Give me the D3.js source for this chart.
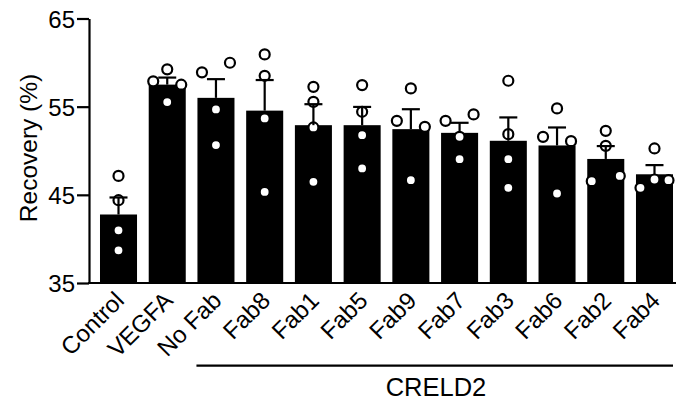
<!DOCTYPE html>
<meta charset="utf-8">
<style>
body { margin: 0; background: #fff; }
text { font-family: Arial, "Liberation Sans", sans-serif; fill: #000; }
</style>
<body>
<script src="https://d3js.org/d3.v7.min.js"></script>
<script>
var groups = ["Control", "VEGFA", "No Fab", "Fab8", "Fab1", "Fab5", "Fab9", "Fab7", "Fab3", "Fab6", "Fab2", "Fab4"];
var means = [42.77, 57.5, 56.0, 54.55, 52.9, 52.9, 52.45, 52.03, 51.13, 50.6, 49.07, 47.33];
var sems = [1.93, 0.8, 2.12, 3.47, 2.38, 2.07, 2.26, 1.14, 2.65, 2.04, 1.46, 1.04];
// replicate values per group, and the column (-1 left, 0 middle, 1 right) where each sits
var points = [
  [47.15, 44.39, 40.98, 38.71],
  [57.87, 59.23, 57.49, 55.52],
  [58.89, 59.98, 54.69, 50.64],
  [60.93, 58.5, 53.67, 45.33],
  [57.25, 55.55, 52.64, 46.47],
  [57.45, 54.42, 51.77, 47.99],
  [53.39, 57.07, 52.71, 46.66],
  [53.39, 54.12, 51.58, 49.05],
  [57.94, 51.88, 49.05, 45.79],
  [54.8, 51.58, 51.09, 45.15],
  [52.26, 50.56, 46.55, 47.15],
  [50.26, 45.79, 46.74, 46.66]
];
var lanes = [
  [0, 0, 0, 0],
  [-1, 0, 1, 0],
  [-1, 1, 0, 0],
  [0, 0, 0, 0],
  [0, 0, 0, 0],
  [0, 0, 0, 0],
  [-1, 0, 1, 0],
  [-1, 1, 0, 0],
  [0, 0, 0, 0],
  [0, -1, 1, 0],
  [0, 0, -1, 1],
  [0, -1, 0, 1]
];
var yTicks = [35, 45, 55, 65];
var bracketLabel = "CRELD2";
var bracketFrom = "No Fab";

var width = 678, height = 405;

var svg = d3.select("body").append("svg")
    .attr("width", width)
    .attr("height", height);

var x = d3.scaleBand()
    .domain(groups)
    .range([88.3, 684.7])
    .paddingInner(0.24)
    .paddingOuter(0.24);

var y = d3.scaleLinear()
    .domain([35, 65])
    .range([283, 18.5]);

// bars
svg.selectAll("rect.bar")
    .data(groups)
  .enter().append("rect")
    .attr("class", "bar")
    .attr("x", function(d) { return x(d); })
    .attr("width", x.bandwidth())
    .attr("y", function(d, i) { return y(means[i]); })
    .attr("height", function(d, i) { return y(35) - y(means[i]); })
    .attr("fill", "#000");

// replicate dots
var spread = 14;
var dots = [];
groups.forEach(function(g, i) {
  points[i].forEach(function(v, j) {
    dots.push({ g: g, v: v, lane: lanes[i][j] });
  });
});
svg.selectAll("circle.dot")
    .data(dots)
  .enter().append("circle")
    .attr("class", "dot")
    .attr("cx", function(d) { return x(d.g) + x.bandwidth() / 2 + d.lane * spread; })
    .attr("cy", function(d) { return y(d.v); })
    .attr("r", 5)
    .attr("fill", "#fff")
    .attr("stroke", "#000")
    .attr("stroke-width", 2.2);

// error bars (upper only)
var err = svg.append("g")
    .attr("stroke", "#000")
    .attr("stroke-width", 2.2);
groups.forEach(function(g, i) {
  var cx = x(g) + x.bandwidth() / 2;
  err.append("line")
      .attr("x1", cx).attr("x2", cx)
      .attr("y1", y(means[i])).attr("y2", y(means[i] + sems[i]));
  err.append("line")
      .attr("x1", cx - 9).attr("x2", cx + 9)
      .attr("y1", y(means[i] + sems[i])).attr("y2", y(means[i] + sems[i]));
});

// y axis
var yAxis = svg.append("g")
    .attr("transform", "translate(89,0)")
    .call(d3.axisLeft(y).tickValues(yTicks).tickSize(12).tickSizeOuter(0).tickPadding(2));
yAxis.select(".domain").attr("stroke-width", 2.2);
yAxis.selectAll(".tick line").attr("stroke-width", 2.2);
yAxis.selectAll(".tick text")
    .attr("font-size", "24px")
    .attr("font-family", "Arial, 'Liberation Sans', sans-serif")
    .attr("dy", "0.36em");

// x axis line
svg.append("line")
    .attr("x1", 88).attr("x2", 676)
    .attr("y1", y(35)).attr("y2", y(35))
    .attr("stroke", "#000")
    .attr("stroke-width", 2.2);

// x labels
svg.selectAll("text.xlab")
    .data(groups)
  .enter().append("text")
    .attr("class", "xlab")
    .attr("transform", function(d) {
      return "translate(" + (x(d) + x.bandwidth() / 2 + 7) + ",302) rotate(-45)";
    })
    .attr("text-anchor", "end")
    .attr("font-size", "24px")
    .text(function(d) { return d; });

// y title
svg.append("text")
    .attr("transform", "translate(37,148) rotate(-90)")
    .attr("text-anchor", "middle")
    .attr("font-size", "24.5px")
    .text("Recovery (%)");

// CRELD2 bracket
svg.append("line")
    .attr("x1", x(bracketFrom) - 1).attr("x2", x(groups[groups.length - 1]) + x.bandwidth())
    .attr("y1", 365.7).attr("y2", 365.7)
    .attr("stroke", "#000")
    .attr("stroke-width", 2.2);
svg.append("text")
    .attr("x", 436)
    .attr("y", 396)
    .attr("text-anchor", "middle")
    .attr("font-size", "25.5px")
    .text(bracketLabel);
</script>
</body>
